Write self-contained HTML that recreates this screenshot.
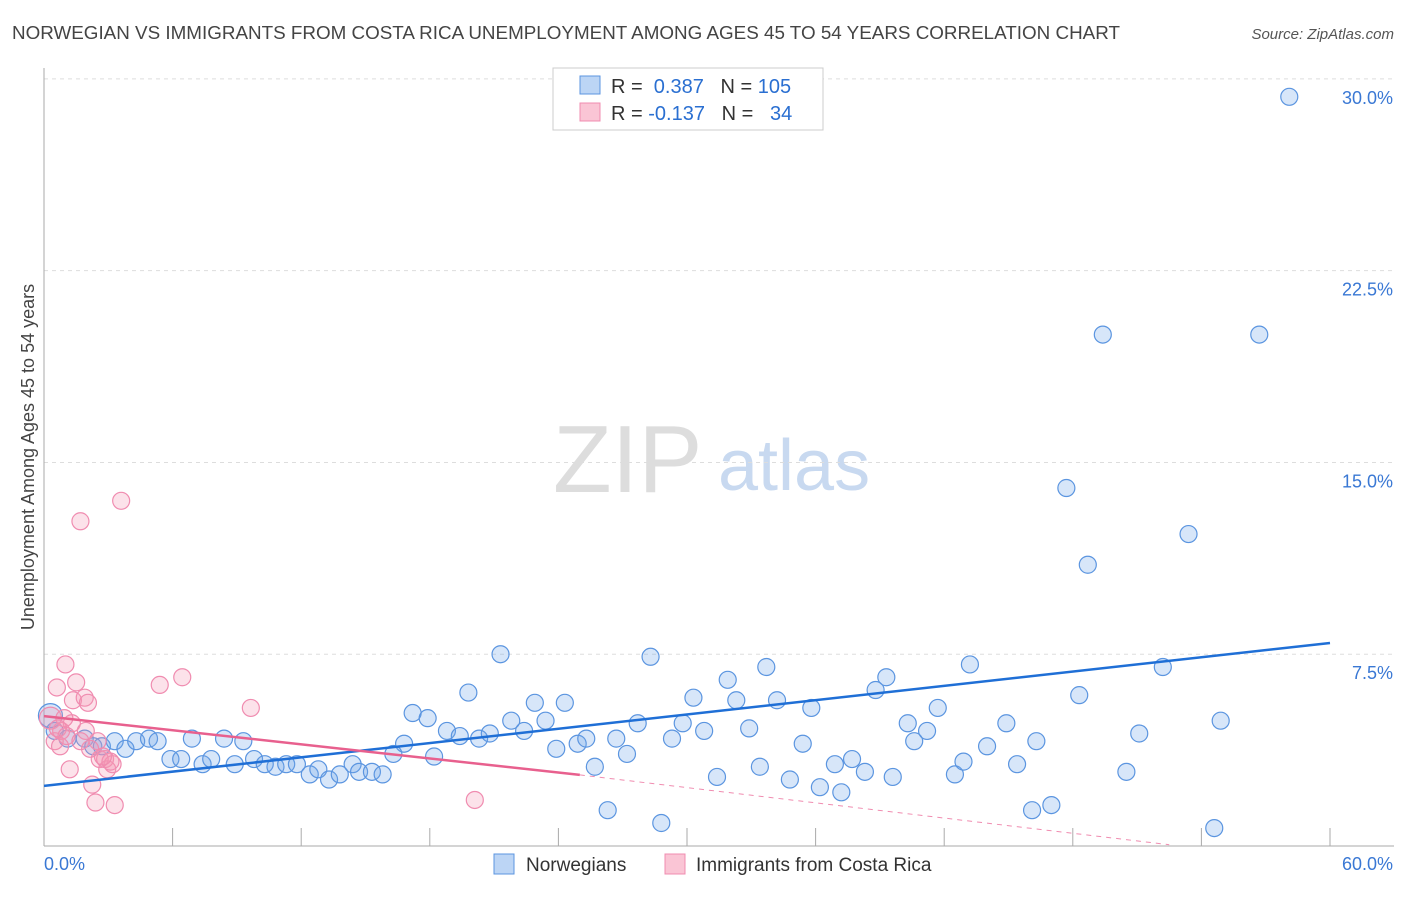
<!DOCTYPE html>
<html><head><meta charset="utf-8"><style>
body{margin:0;background:#fff;font-family:"Liberation Sans",sans-serif;}
svg text{font-family:"Liberation Sans",sans-serif;}
</style></head><body>
<svg id="chart" width="1406" height="892" xmlns="http://www.w3.org/2000/svg">
<text x="12" y="39" font-size="18.5" fill="#444" textLength="1108" lengthAdjust="spacingAndGlyphs">NORWEGIAN VS IMMIGRANTS FROM COSTA RICA UNEMPLOYMENT AMONG AGES 45 TO 54 YEARS CORRELATION CHART</text>
<text x="1394" y="39" font-size="15" fill="#555" text-anchor="end" font-style="italic">Source: ZipAtlas.com</text>
<g>
<text x="553" y="492" font-size="96" fill="#ddd" font-family="Liberation Serif,serif">ZIP</text>
<text x="718" y="490" font-size="72" fill="#c8d9f0">atlas</text>
</g>
<g id="grid"></g>
<g id="marks"></g>
<text transform="translate(34,457) rotate(-90)" font-size="18" fill="#444" text-anchor="middle">Unemployment Among Ages 45 to 54 years</text>
<g>
<rect x="553" y="68" width="270" height="62" fill="#fff" stroke="#ccc"/>
<rect x="580" y="76" width="20" height="18" fill="#bcd5f5" stroke="#5b95e0"/>
<rect x="580" y="103" width="20" height="18" fill="#fac5d5" stroke="#f08cb0"/>
<text x="611" y="93" font-size="20" fill="#333">R = <tspan fill="#2a6fd1">&#160;0.387</tspan>&#160;&#160;&#160;N = <tspan fill="#2a6fd1">105</tspan></text>
<text x="611" y="120" font-size="20" fill="#333">R = <tspan fill="#2a6fd1">-0.137</tspan>&#160;&#160;&#160;N = <tspan fill="#2a6fd1">&#160;&#160;34</tspan></text>
</g>
<g>
<rect x="494" y="854" width="20" height="20" fill="#bcd5f5" stroke="#5b95e0"/>
<text x="526" y="871" font-size="19" fill="#333">Norwegians</text>
<rect x="665" y="854" width="20" height="20" fill="#fac5d5" stroke="#f08cb0"/>
<text x="696" y="871" font-size="19" fill="#333">Immigrants from Costa Rica</text>
</g>
</svg>
<script>
const xTicks=[0,6,12,18,24,30,36,42,48,54,60];
const yTicks=[7.5,15,22.5,30];
const yTickLabels=["7.5%","15.0%","22.5%","30.0%"];
const xEndLabels=["0.0%","60.0%"];
const blueX=[0.3,0.5,1.1,1.9,2.3,2.7,3.3,3.8,4.3,4.9,5.3,5.9,6.4,6.9,7.4,7.8,8.4,8.9,9.3,9.8,10.3,10.8,11.3,11.8,12.4,12.8,13.3,13.8,14.4,14.7,15.3,15.8,16.3,16.8,17.2,17.9,18.2,18.8,19.4,19.8,20.3,20.8,21.3,21.8,22.4,22.9,23.4,23.9,24.3,24.9,25.3,25.7,26.3,26.7,27.2,27.7,28.3,28.8,29.3,29.8,30.3,30.8,31.4,31.9,32.3,32.9,33.4,33.7,34.2,34.8,35.4,35.8,36.2,36.9,37.2,37.7,38.3,38.8,39.3,39.6,40.3,40.6,41.2,41.7,42.5,42.9,43.2,44.0,44.9,45.4,46.1,46.3,47.0,47.7,48.3,48.7,49.4,50.5,51.1,52.2,53.4,54.6,54.9,56.7,58.1];
const blueY=[5.1,4.5,4.2,4.2,3.9,3.9,4.1,3.8,4.1,4.2,4.1,3.4,3.4,4.2,3.2,3.4,4.2,3.2,4.1,3.4,3.2,3.1,3.2,3.2,2.8,3.0,2.6,2.8,3.2,2.9,2.9,2.8,3.6,4.0,5.2,5.0,3.5,4.5,4.3,6.0,4.2,4.4,7.5,4.9,4.5,5.6,4.9,3.8,5.6,4.0,4.2,3.1,1.4,4.2,3.6,4.8,7.4,0.9,4.2,4.8,5.8,4.5,2.7,6.5,5.7,4.6,3.1,7.0,5.7,2.6,4.0,5.4,2.3,3.2,2.1,3.4,2.9,6.1,6.6,2.7,4.8,4.1,4.5,5.4,2.8,3.3,7.1,3.9,4.8,3.2,1.4,4.1,1.6,14.0,5.9,11.0,20.0,2.9,4.4,7.0,12.2,0.7,4.9,20.0,29.3];
const pinkXs=[0.3,0.5,0.6,0.8,1.0,1.2,1.35,1.5,1.7,1.9,2.05,1.95,2.25,2.4,2.5,2.6,2.85,2.95,3.2,3.3,3.6,5.4,6.45,9.65,20.1,0.75,1.3,0.95,3.1,2.15,0.65,1.05,1.7,2.75];
const pinkYs=[5.0,4.1,6.2,4.5,7.1,3.0,5.7,6.4,12.7,5.8,5.6,4.5,2.4,1.7,4.1,3.4,3.4,3.0,3.2,1.6,13.5,6.3,6.6,5.4,1.8,3.9,4.8,5.0,3.3,3.8,4.6,4.3,4.1,3.5];
const blueFit=[2.35,7.94];
const pinkFit=[5.08,-0.092];
const pinkSolidEnd=25;
const pinkDashEnd=[52.5,0.05];
const X0=44,X1=1330,Y0=846,PY=25.57;
function sx(v){return X0+(X1-X0)*v/60;}
function sy(v){return Y0-v*PY;}
const NS="http://www.w3.org/2000/svg";
function mk(t,a,p){const e=document.createElementNS(NS,t);for(const k in a)e.setAttribute(k,a[k]);p.appendChild(e);return e;}
const grid=document.getElementById('grid'),marks=document.getElementById('marks');
yTicks.forEach((t,i)=>{
 const l=mk('line',{x1:44,x2:1394,y1:sy(t),y2:sy(t),stroke:'#ddd','stroke-dasharray':'4,4'},grid);
 
 
 const tx=mk('text',{x:1393,y:sy(t)+25,'font-size':18,fill:'#3a78d4','text-anchor':'end'},grid);
 tx.textContent=yTickLabels[i];
 
 
});
const ya=mk('line',{x1:44,x2:44,y1:68,y2:846,stroke:'#aaa'},grid);


const xa=mk('line',{x1:44,x2:1394,y1:846,y2:846,stroke:'#aaa'},grid);


xTicks.forEach(t=>{
 const l=mk('line',{x1:sx(t),x2:sx(t),y1:828,y2:846,stroke:'#aaa'},grid);
 
 
});
[[0,'start'],[60,'end']].forEach((a,i)=>{
 const tx=mk('text',{x:i?1393:44,y:870,'font-size':18,fill:'#3a78d4','text-anchor':a[1]},grid);
 tx.textContent=xEndLabels[i];
 
 
});
blueX.forEach((x,i)=>{
 const c=mk('circle',{cx:sx(x),cy:sy(blueY[i]),r:i==0?12:8.5,fill:'rgba(110,165,235,0.28)',stroke:'#5b95e0','stroke-width':1.2},marks);
 
 
});
pinkXs.forEach((x,i)=>{
 const c=mk('circle',{cx:sx(x),cy:sy(pinkYs[i]),r:i==0?11:8.5,fill:'rgba(245,150,180,0.28)',stroke:'#f08cb0','stroke-width':1.2},marks);
 
 
});
const bl=mk('line',{x1:sx(0),y1:sy(blueFit[0]),x2:sx(60),y2:sy(blueFit[1]),stroke:'#1f6fd6','stroke-width':2.5},marks);


const pl=mk('line',{x1:sx(0),y1:sy(pinkFit[0]),x2:sx(pinkSolidEnd),y2:sy(pinkFit[0]+pinkFit[1]*pinkSolidEnd),stroke:'#e8608e','stroke-width':2.5},marks);


const pd=mk('line',{x1:sx(pinkSolidEnd),y1:sy(pinkFit[0]+pinkFit[1]*pinkSolidEnd),x2:sx(pinkDashEnd[0]),y2:sy(pinkDashEnd[1]),stroke:'#f08cb0','stroke-width':1,'stroke-dasharray':'5,5'},marks);


</script>
</body></html>
